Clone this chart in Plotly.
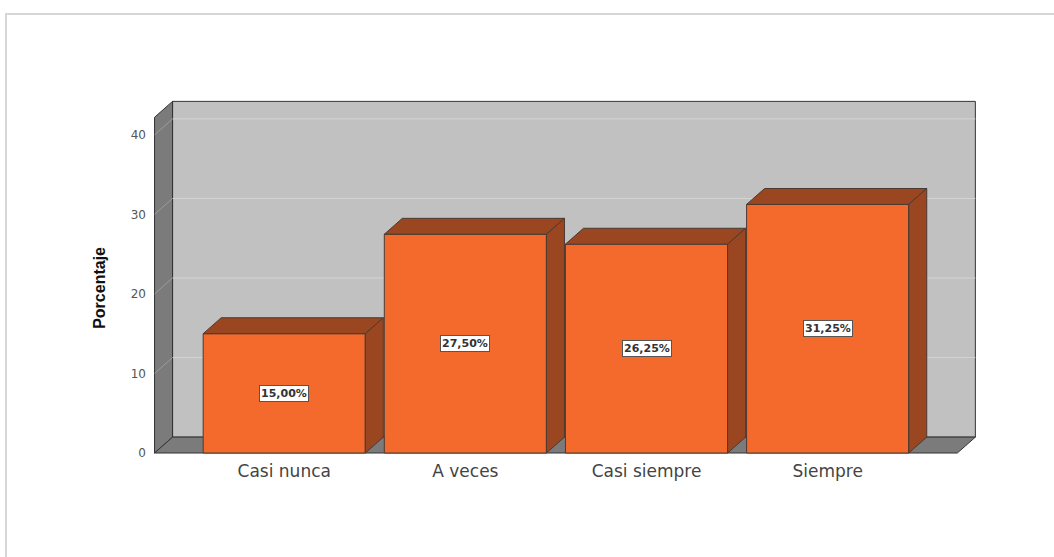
import plotly.graph_objects as go

# Survey response distribution (percent)
categories = ["Casi nunca", "A veces", "Casi siempre", "Siempre"]
percentages = [15.00, 27.50, 26.25, 31.25]
y_ticks = [0, 10, 20, 30, 40]

# Pseudo-3D geometry in data units
DEPTH_X = 0.0995      # horizontal depth offset (category units)
DEPTH_Y = 2.0         # vertical depth offset (value units)
HALF_W = 0.4475       # half width of each bar front face
WALL_X0, WALL_X1 = -0.716, 3.716
WALL_TOP = 42.2

FRONT = "#f36a2c"
SHADE = "#9a4621"
EDGE = "#4a3a33"
BACK_WALL = "#c1c1c1"
SIDE_WALL = "#7b7b7b"

W, H = 1054, 557
L, R, T, B = 152, 76, 99, 100

fig = go.Figure()


def path_of(xs, ys):
    pts = " L".join(f"{x},{y}" for x, y in zip(xs, ys))
    return f"M{pts} Z"


def wall(xs, ys, fill):
    fig.add_shape(type="path", xref="x", yref="y", path=path_of(xs, ys),
                  fillcolor=fill, line=dict(color="#333333", width=1), layer="below")


def wall_line(x0, y0, x1, y1, color):
    fig.add_shape(type="line", xref="x", yref="y", x0=x0, y0=y0, x1=x1, y1=y1,
                  line=dict(color=color, width=1), layer="below")


def face(xs, ys, fill):
    fig.add_trace(go.Scatter(
        x=xs + [xs[0]], y=ys + [ys[0]], mode="lines", fill="toself",
        fillcolor=fill, line=dict(color=EDGE, width=1),
        hoverinfo="skip", showlegend=False))


# back wall, left wall and floor
wall([WALL_X0 + DEPTH_X, WALL_X1 + DEPTH_X, WALL_X1 + DEPTH_X, WALL_X0 + DEPTH_X],
     [DEPTH_Y, DEPTH_Y, WALL_TOP + DEPTH_Y, WALL_TOP + DEPTH_Y], BACK_WALL)
wall([WALL_X0, WALL_X0 + DEPTH_X, WALL_X0 + DEPTH_X, WALL_X0],
     [0, DEPTH_Y, WALL_TOP + DEPTH_Y, WALL_TOP], SIDE_WALL)
wall([WALL_X0, WALL_X1, WALL_X1 + DEPTH_X, WALL_X0 + DEPTH_X],
     [0, 0, DEPTH_Y, DEPTH_Y], SIDE_WALL)

# gridlines on the back and left walls
for t in y_ticks[1:]:
    wall_line(WALL_X0 + DEPTH_X, t + DEPTH_Y, WALL_X1 + DEPTH_X, t + DEPTH_Y, "#d4d4d4")
    wall_line(WALL_X0, t, WALL_X0 + DEPTH_X, t + DEPTH_Y, "#9c9c9c")

# bar front faces
fig.add_trace(go.Bar(
    x=list(range(len(categories))), y=percentages, width=2 * HALF_W,
    marker=dict(color=FRONT, line=dict(color=EDGE, width=1)),
    hoverinfo="skip", showlegend=False))

# bar tops and right sides
for i, v in enumerate(percentages):
    face([i - HALF_W, i + HALF_W, i + HALF_W + DEPTH_X, i - HALF_W + DEPTH_X],
         [v, v, v + DEPTH_Y, v + DEPTH_Y], SHADE)
    face([i + HALF_W, i + HALF_W + DEPTH_X, i + HALF_W + DEPTH_X, i + HALF_W],
         [0, DEPTH_Y, v + DEPTH_Y, v], SHADE)

# value labels
for i, v in enumerate(percentages):
    fig.add_annotation(
        x=i, y=v / 2, xref="x", yref="y",
        text="<b>" + f"{v:.2f}%".replace(".", ",") + "</b>", showarrow=False,
        font=dict(family="DejaVu Sans, Verdana, sans-serif", size=11, color="#333333"),
        bgcolor="white", bordercolor="#555555", borderwidth=1, borderpad=1)

# y axis title
fig.add_annotation(
    x=(89 - L) / (W - L - R), y=20.7, xref="paper", yref="y",
    text="<b>Porcentaje</b>", textangle=-90, showarrow=False,
    font=dict(family="Liberation Sans Narrow, Arial Narrow, sans-serif", size=16, color="#111111"))


# outer card border
def px_x(p):
    return (p - L) / (W - L - R)


def px_y(p):
    return 1 - (p - T) / (H - T - B)


fig.add_shape(type="rect", xref="paper", yref="paper",
              x0=px_x(6), x1=px_x(W + 20), y0=px_y(H + 20), y1=px_y(14),
              line=dict(color="#d6d6d6", width=2), fillcolor="rgba(0,0,0,0)", layer="below")

fig.update_layout(
    width=W, height=H,
    margin=dict(l=L, r=R, t=T, b=B),
    paper_bgcolor="white", plot_bgcolor="white",
    barmode="overlay",
    xaxis=dict(range=[-0.73, 3.83], tickvals=list(range(len(categories))),
               ticktext=categories, showgrid=False, zeroline=False, showline=False,
               ticks="", ticklabelstandoff=2,
               tickfont=dict(family="DejaVu Sans, Verdana, sans-serif", size=17, color="#444444")),
    yaxis=dict(range=[-0.5, 44.5], tickvals=y_ticks, showgrid=False, zeroline=False,
               showline=False, ticks="", ticklabelstandoff=5,
               tickfont=dict(family="DejaVu Sans, Verdana, sans-serif", size=12, color="#555555")),
)

fig.write_html("out.html")
